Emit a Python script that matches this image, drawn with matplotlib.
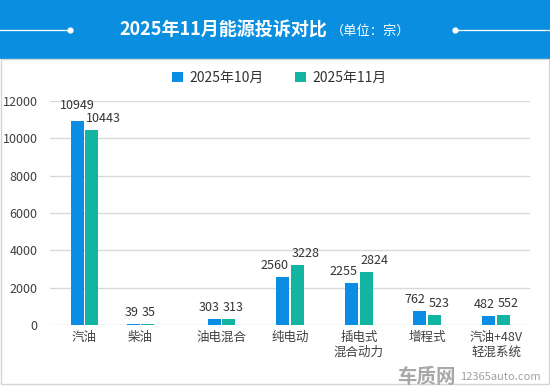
import matplotlib
matplotlib.use("Agg")
import matplotlib.pyplot as plt
from matplotlib.patches import Rectangle, Patch
from matplotlib.lines import Line2D

plt.rcParams["font.family"] = ["Noto Sans CJK SC", "DejaVu Sans"]

categories = ["汽油", "柴油", "油电混合", "纯电动", "插电式\n混合动力", "增程式", "汽油+48V\n轻混系统"]
oct_vals = [10949, 39, 303, 2560, 2255, 762, 482]
nov_vals = [10443, 35, 313, 3228, 2824, 523, 552]
series_names = ["2025年10月", "2025年11月"]
yticks = [0, 2000, 4000, 6000, 8000, 10000, 12000]

# group centres (in pixel-like axis units, the source spacing is uneven)
xpos = [84.5, 140.5, 221.5, 290, 359, 427, 496]
bw = 13.0
c_oct = "#0b8de3"
c_nov = "#13b4a1"

fig = plt.figure(figsize=(5.5, 3.86), dpi=100)

# header bar
fig.patches.append(Rectangle((0, 1 - 59 / 386), 1, 59 / 386, transform=fig.transFigure,
                             facecolor="#0a8fe0", edgecolor="none", zorder=0))
# panel border
fig.patches.append(Rectangle((0.002, 0.004), 0.996, 1 - 59 / 386 - 0.004, transform=fig.transFigure,
                             facecolor="none", edgecolor="#d4d4d4", lw=1, zorder=0))
yl = 1 - 30 / 386
fig.add_artist(Line2D([0, 70 / 550], [yl, yl], color="white", lw=0.9, transform=fig.transFigure))
fig.add_artist(Line2D([455 / 550, 1], [yl, yl], color="white", lw=0.9, transform=fig.transFigure))
fig.add_artist(Line2D([70 / 550, 455 / 550], [yl, yl], ls="none", marker="o", ms=3.5,
                      color="white", transform=fig.transFigure))
fig.text(327 / 550, yl, "2025年11月能源投诉对比", color="white", fontsize=13, fontweight="bold",
         ha="right", va="center")
fig.text(331 / 550, yl - 0.003, "（单位：宗）", color="white", fontsize=9.5, ha="left", va="center")

ax = fig.add_axes([50 / 550, 1 - 325 / 386, 480 / 550, 224 / 386])
ax.bar([x - bw / 2 - 0.8 for x in xpos], oct_vals, width=bw, color=c_oct, zorder=3)
ax.bar([x + bw / 2 + 0.8 for x in xpos], nov_vals, width=bw, color=c_nov, zorder=3)

for i, x in enumerate(xpos):
    if i == 0:
        ax.annotate(f"{oct_vals[i]}", (x - bw / 2 - 0.8, oct_vals[i]), xytext=(0, 6),
                    textcoords="offset points", ha="center", va="bottom", fontsize=9, color="#333333")
    else:
        ax.annotate(f"{oct_vals[i]}", (x - 1.5, oct_vals[i]), xytext=(0, 3.5),
                    textcoords="offset points", ha="right", va="bottom", fontsize=9, color="#333333")
    ax.annotate(f"{nov_vals[i]}", (x + 1.2, nov_vals[i]), xytext=(0, 3.5),
                textcoords="offset points", ha="left", va="bottom", fontsize=9, color="#333333")

ax.set_xlim(50, 530)
ax.set_ylim(0, 12000)
ax.set_yticks(yticks)
ax.set_yticklabels([str(v) for v in yticks], fontsize=9, color="#404040")
ax.set_xticks(xpos)
ax.set_xticklabels(categories, fontsize=9, color="#404040", linespacing=1.2)
ax.tick_params(axis="both", length=0)
ax.tick_params(axis="y", pad=9)
ax.tick_params(axis="x", pad=4)
ax.grid(axis="y", color="#d9d9d9", lw=1, zorder=0)
for s in ax.spines.values():
    s.set_visible(False)

handles = [Patch(facecolor=c_oct), Patch(facecolor=c_nov)]
fig.legend(handles, series_names, loc="center", bbox_to_anchor=(0.508, 1 - 78 / 386), ncol=2,
           frameon=False, fontsize=10, handlelength=0.8, handleheight=0.8, handletextpad=0.5,
           columnspacing=2.2, labelcolor="#333333")

fig.text(456 / 550, 9 / 386, "车质网", fontsize=14, fontweight="bold", color="#a8a8a8",
         ha="right", va="center")
fig.text(460 / 550, 9 / 386, "12365auto.com", fontsize=8, color="#a0a0a0", ha="left", va="center")

fig.savefig("out.png", dpi=100)
